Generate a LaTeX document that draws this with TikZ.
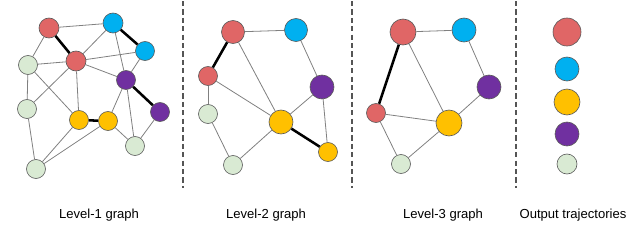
\documentclass[tikz,border=0pt]{standalone}
\usepackage{fontspec}
\setmainfont{Liberation Sans}
\definecolor{cred}{HTML}{E06666}
\definecolor{cblue}{HTML}{00B0F0}
\definecolor{cyel}{HTML}{FFC000}
\definecolor{cpur}{HTML}{7030A0}
\definecolor{cgrn}{HTML}{D9EAD3}
\definecolor{edgegray}{HTML}{808080}
\definecolor{sepgray}{HTML}{555555}
\tikzset{
  nd/.style 2 args={circle, draw=black!65, line width=0.45pt, fill=#1, minimum size=#2*0.75pt, inner sep=0pt},
  thin edge/.style={draw=edgegray, line width=0.6pt},
  thick edge/.style={draw=black, line width=1.9pt},
  sep/.style={draw=sepgray, line width=0.8pt, dash pattern=on 3.9pt off 2.4pt},
  lbl/.style={font=\fontsize{9.8pt}{11pt}\selectfont, inner sep=0pt}
}
\begin{document}
\begin{tikzpicture}[x=0.75pt,y=-0.75pt]
\useasboundingbox (0,0) rectangle (640,250);
% ---------- Level-1 ----------
\node[nd={cred}{20}]  (aR1) at (49,28) {};
\node[nd={cblue}{20}] (aB1) at (113,23) {};
\node[nd={cblue}{19}] (aB2) at (145,51) {};
\node[nd={cred}{20}]  (aR2) at (76,61) {};
\node[nd={cgrn}{19}]  (aG1) at (28,65) {};
\node[nd={cpur}{19}]  (aP1) at (126,80) {};
\node[nd={cgrn}{19}]  (aG2) at (27,109) {};
\node[nd={cpur}{19}]  (aP2) at (160,112) {};
\node[nd={cyel}{19}]  (aY1) at (79,120) {};
\node[nd={cyel}{19}]  (aY2) at (108,121) {};
\node[nd={cgrn}{19}]  (aG3) at (135,146) {};
\node[nd={cgrn}{19}]  (aG4) at (36,169) {};
\foreach \u/\v in {aR1/aB1, aR1/aG1, aB1/aR2, aB1/aP1, aR2/aB2, aG1/aR2,
  aR2/aP1, aR2/aY1, aR2/aG2, aG1/aG2, aG1/aY1, aG2/aG4, aY1/aG4, aY2/aG4,
  aY2/aP1, aY2/aG3, aP1/aG3, aP2/aG3, aB2/aP1}
  \path[thin edge] (\u) -- (\v);
\foreach \u/\v in {aR1/aR2, aB1/aB2, aY1/aY2, aP1/aP2}
  \path[thick edge] (\u) -- (\v);
% ---------- Level-2 ----------
\node[nd={cred}{23}]  (bR1) at (233,32) {};
\node[nd={cblue}{23}] (bB1) at (296,30) {};
\node[nd={cred}{19}]  (bR2) at (208,76) {};
\node[nd={cpur}{24}]  (bP1) at (322,87) {};
\node[nd={cgrn}{19}]  (bG1) at (208,114) {};
\node[nd={cyel}{24}]  (bY1) at (281,122) {};
\node[nd={cyel}{19}]  (bY2) at (328,152) {};
\node[nd={cgrn}{19}]  (bG2) at (233,165) {};
\foreach \u/\v in {bR1/bB1, bR1/bY1, bB1/bP1, bR2/bG1, bR2/bY1, bG1/bG2,
  bG2/bY1, bY1/bP1, bP1/bY2}
  \path[thin edge] (\u) -- (\v);
\foreach \u/\v in {bR1/bR2, bY1/bY2}
  \path[thick edge] (\u) -- (\v);
% ---------- Level-3 ----------
\node[nd={cred}{26}]  (cR1) at (403,32) {};
\node[nd={cblue}{24}] (cB1) at (464,30) {};
\node[nd={cpur}{24}]  (cP1) at (489,87) {};
\node[nd={cred}{19}]  (cR2) at (376,113) {};
\node[nd={cyel}{26}]  (cY1) at (449,123) {};
\node[nd={cgrn}{19}]  (cG1) at (401,164) {};
\foreach \u/\v in {cR1/cB1, cR1/cY1, cB1/cP1, cR2/cY1, cR2/cG1, cG1/cY1, cY1/cP1}
  \path[thin edge] (\u) -- (\v);
\path[thick edge] (cR1) -- (cR2);
% ---------- Output ----------
\node[nd={cred}{28}]  (oR) at (567,32) {};
\node[nd={cblue}{24}] (oB) at (567,69) {};
\node[nd={cyel}{26}]  (oY) at (567,102) {};
\node[nd={cpur}{24}]  (oP) at (567,134) {};
\node[nd={cgrn}{20}]  (oG) at (567,164) {};
% ---------- separators ----------
\coordinate (s1t) at (183,1); \coordinate (s1b) at (183,188);
\coordinate (s2t) at (352,1); \coordinate (s2b) at (352,188);
\coordinate (s3t) at (516,1); \coordinate (s3b) at (516,188);
\path[sep] (s1t) -- (s1b);
\path[sep] (s2t) -- (s2b);
\path[sep] (s3t) -- (s3b);
% ---------- labels ----------
\node[lbl] (l1) at (99,215) {Level-1 graph};
\node[lbl] (l2) at (266,215) {Level-2 graph};
\node[lbl] (l3) at (443,215) {Level-3 graph};
\node[lbl] (l4) at (573,215) {Output trajectories};
\end{tikzpicture}
\end{document}
